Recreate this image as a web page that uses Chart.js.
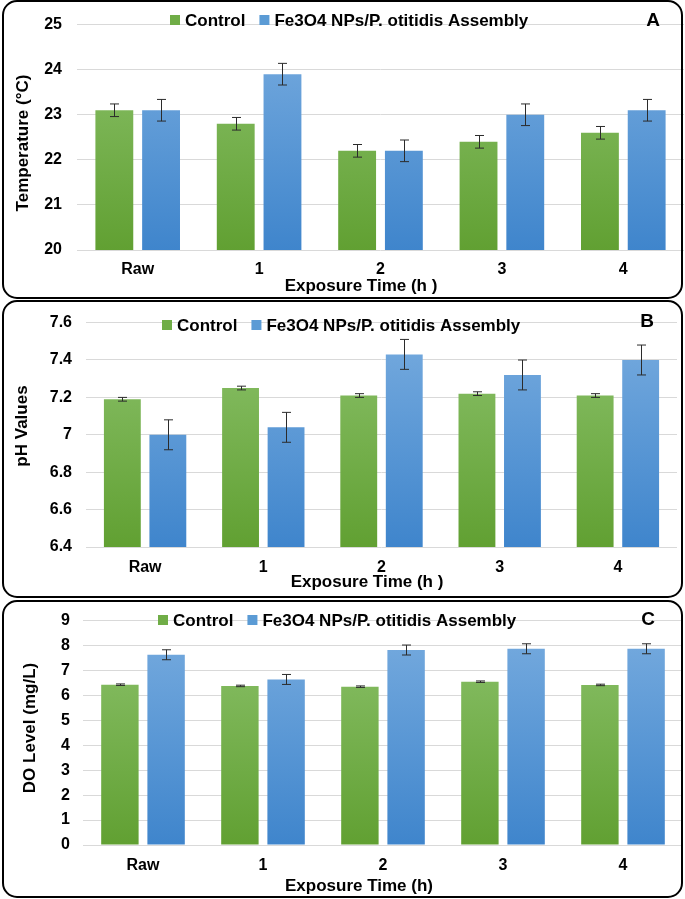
<!DOCTYPE html>
<html>
<head>
<meta charset="utf-8">
<script src="https://cdn.jsdelivr.net/npm/chart.js@4.4.1/dist/chart.umd.min.js"></script>
<style>
  body { margin: 0; background: #fff; width: 685px; height: 899px; position: relative; overflow: hidden; }
  canvas { position: absolute; left: 0; }
  .box { position: absolute; left: 2px; width: 681px; border: 2px solid #000; border-radius: 15px; box-sizing: border-box; pointer-events: none; }
</style>
</head>
<body>
<canvas id="chartA" width="685" height="299" style="top:0px"></canvas>
<canvas id="chartB" width="685" height="299" style="top:299px"></canvas>
<canvas id="chartC" width="685" height="301" style="top:598px"></canvas>
<div class="box" style="top:0px;height:299px"></div>
<div class="box" style="top:300px;height:298px"></div>
<div class="box" style="top:600px;height:298px"></div>
<script>
const categories = ['Raw', '1', '2', '3', '4'];
const seriesNames = ['Control', 'Fe3O4 NPs/P. otitidis Assembly'];

// A - temperature
const tempControl = [23.1, 22.8, 22.2, 22.4, 22.6];
const tempControlErr = [0.14, 0.14, 0.14, 0.14, 0.14];
const tempAssembly = [23.1, 23.9, 22.2, 23.0, 23.1];
const tempAssemblyErr = [0.24, 0.24, 0.24, 0.24, 0.24];
const tempAxis = [20, 25, 1]; // min, max, step

// B - pH
const phControl = [7.19, 7.25, 7.21, 7.22, 7.21];
const phControlErr = [0.01, 0.01, 0.01, 0.01, 0.01];
const phAssembly = [7.0, 7.04, 7.43, 7.32, 7.40];
const phAssemblyErr = [0.08, 0.08, 0.08, 0.08, 0.08];
const phAxis = [6.4, 7.6, 0.2];

// C - dissolved oxygen
const doControl = [6.43, 6.38, 6.35, 6.55, 6.42];
const doControlErr = [0.03, 0.03, 0.03, 0.03, 0.03];
const doAssembly = [7.63, 6.64, 7.82, 7.87, 7.87];
const doAssemblyErr = [0.2, 0.2, 0.2, 0.2, 0.2];
const doAxis = [0, 9, 1];

const FONT = 'Liberation Sans, Arial, sans-serif';
const greenSolid = '#70ad47';
const blueSolid = '#5b9bd5';

function grad(top, bottom) {
  return function (ctx) {
    const area = ctx.chart.chartArea;
    if (!area) return top;
    const g = ctx.chart.ctx.createLinearGradient(0, area.top, 0, area.bottom);
    g.addColorStop(0, top);
    g.addColorStop(1, bottom);
    return g;
  };
}

const deco = {
  id: 'deco',
  afterDatasetsDraw(chart) {
    const ctx = chart.ctx;
    const y = chart.scales.y;
    ctx.save();
    ctx.strokeStyle = '#2b2b2b';
    ctx.lineWidth = 1;
    chart.data.datasets.forEach((ds, i) => {
      chart.getDatasetMeta(i).data.forEach((bar, j) => {
        const v = ds.data[j], e = ds.errors[j];
        const x = Math.round(bar.x) + 0.5;
        const t = y.getPixelForValue(v + e), b = y.getPixelForValue(v - e);
        ctx.beginPath();
        ctx.moveTo(x, t); ctx.lineTo(x, b);
        ctx.moveTo(x - 4.5, t); ctx.lineTo(x + 4.5, t);
        ctx.moveTo(x - 4.5, b); ctx.lineTo(x + 4.5, b);
        ctx.stroke();
      });
    });
    ctx.restore();
  },
  afterDraw(chart, args, o) {
    const ctx = chart.ctx;
    ctx.save();
    ctx.fillStyle = '#000';
    ctx.textBaseline = 'middle';
    ctx.font = 'bold 17px ' + FONT;
    // legend
    let x = o.legendX;
    chart.data.datasets.forEach((ds) => {
      ctx.fillStyle = ds.swatch;
      ctx.fillRect(x, o.legendY - 5, 10, 10);
      x += 15;
      ctx.fillStyle = '#000';
      ctx.textAlign = 'left';
      ctx.fillText(ds.label, x, o.legendY + 1);
      x += ctx.measureText(ds.label).width + 14;
    });
    // panel letter
    ctx.font = 'bold 19px ' + FONT;
    ctx.textAlign = 'center';
    ctx.fillText(o.letter, o.letterX, o.letterY);
    // axis titles
    ctx.font = 'bold 17px ' + FONT;
    ctx.fillText(o.xTitle, o.xTitleX, o.xTitleY);
    ctx.translate(o.yTitleX, o.yTitleY);
    ctx.rotate(-Math.PI / 2);
    ctx.fillText(o.yTitle, 0, 0);
    ctx.restore();
  }
};

function makePanel(id, control, controlErr, assembly, assemblyErr, axis, p) {
  new Chart(document.getElementById(id), {
    type: 'bar',
    data: {
      labels: categories,
      datasets: [
        { label: seriesNames[0], data: control, errors: controlErr, swatch: greenSolid,
          backgroundColor: grad('#8cc26c', '#61a032'), borderWidth: 0 },
        { label: seriesNames[1], data: assembly, errors: assemblyErr, swatch: blueSolid,
          backgroundColor: grad('#78acdf', '#3f85cc'), borderWidth: 0 }
      ]
    },
    options: {
      responsive: false,
      animation: false,
      layout: { padding: p.padding },
      datasets: { bar: { categoryPercentage: 0.77, barPercentage: 0.81 } },
      plugins: {
        legend: { display: false },
        tooltip: { enabled: false },
        deco: p.deco
      },
      scales: {
        x: {
          grid: { display: false },
          border: { display: false },
          ticks: { color: '#000', font: { family: FONT, size: 16, weight: 'bold' }, padding: p.xTickPad, maxRotation: 0 },
          afterFit: (s) => { s.height = p.xHeight; }
        },
        y: {
          min: axis[0], max: axis[1],
          grid: { color: '#d9d9d9', lineWidth: 1, drawTicks: false },
          border: { display: false },
          ticks: { stepSize: axis[2], color: '#000', font: { family: FONT, size: 16, weight: 'bold' }, padding: p.yTickPad,
            callback: (v) => String(+v.toFixed(2)) },
          afterFit: (s) => { s.width = p.yWidth; }
        }
      }
    },
    plugins: [deco]
  });
}

makePanel('chartA', tempControl, tempControlErr, tempAssembly, tempAssemblyErr, tempAxis, {
  padding: { left: 13, top: 10, right: 1, bottom: 3 },
  yWidth: 64, xHeight: 46, xTickPad: 2, yTickPad: 15,
  deco: { legendX: 170, legendY: 20, letter: 'A', letterX: 653, letterY: 21,
    xTitle: 'Exposure Time (h )', xTitleX: 361, xTitleY: 286,
    yTitle: 'Temperature (°C)', yTitleX: 23, yTitleY: 143 }
});

makePanel('chartB', phControl, phControlErr, phAssembly, phAssemblyErr, phAxis, {
  padding: { left: 12, top: 11, right: 8, bottom: 6 },
  yWidth: 74, xHeight: 45, xTickPad: 3, yTickPad: 14,
  deco: { legendX: 162, legendY: 26, letter: 'B', letterX: 647, letterY: 23,
    xTitle: 'Exposure Time (h )', xTitleX: 367, xTitleY: 283,
    yTitle: 'pH Values', yTitleX: 22, yTitleY: 127 }
});

makePanel('chartC', doControl, doControlErr, doAssembly, doAssemblyErr, doAxis, {
  padding: { left: 19, top: 11, right: 2, bottom: 3 },
  yWidth: 64, xHeight: 51, xTickPad: 3, yTickPad: 13,
  deco: { legendX: 158, legendY: 22, letter: 'C', letterX: 648, letterY: 22,
    xTitle: 'Exposure Time (h)', xTitleX: 359, xTitleY: 288,
    yTitle: 'DO Level (mg/L)', yTitleX: 30, yTitleY: 130 }
});
</script>
</body>
</html>
